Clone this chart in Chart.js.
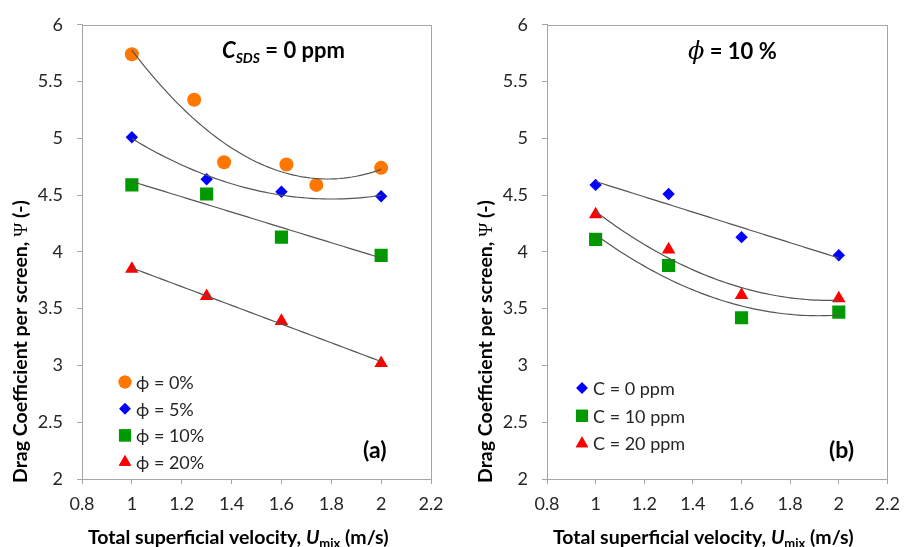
<!DOCTYPE html>
<html>
<head>
<meta charset="utf-8">
<script src="https://cdn.jsdelivr.net/npm/chart.js@4.4.1/dist/chart.umd.min.js"></script>
<style>
  body { margin: 0; background: #fff; }
  #wrap { position: relative; width: 909px; height: 547px; }
  canvas { position: absolute; top: 0; }
</style>
</head>
<body>
<div id="wrap">
  <canvas id="chartA" width="454" height="547" style="left:0"></canvas>
  <canvas id="chartB" width="455" height="547" style="left:454px"></canvas>
</div>
<script>
// data
var velA0 = [1, 1.25, 1.37, 1.62, 1.74, 2];
var psiA0 = [5.74, 5.34, 4.79, 4.77, 4.59, 4.74];
var vel = [1, 1.3, 1.6, 2];
var psiA5 = [5.01, 4.64, 4.53, 4.49];
var psiA10 = [4.59, 4.51, 4.13, 3.97];
var psiA20 = [3.85, 3.61, 3.39, 3.02];
var psiB0 = [4.59, 4.51, 4.13, 3.97];
var psiB10 = [4.11, 3.88, 3.42, 3.47];
var psiB20 = [4.33, 4.02, 3.62, 3.59];

var labelsA = ['\u03d5 = 0%', '\u03d5 = 5%', '\u03d5 = 10%', '\u03d5 = 20%'];
var labelsB = ['C = 0 ppm', 'C = 10 ppm', 'C = 20 ppm'];

var xMin = 0.8, xMax = 2.2, xStep = 0.2;
var yMin = 2, yMax = 6, yStep = 0.5;

var ORANGE = '#FF7700', BLUE = '#0000FF', GREEN = '#009A00', RED = '#FF0000';
var AXIS = '#a6a6a6', TEXT = '#262626', TREND = '#555555';

function pts(xs, ys) {
  return xs.map(function (x, i) { return { x: x, y: ys[i] }; });
}

// least squares polynomial fit (Excel style trendline)
function polyfit(xs, ys, order) {
  var n = order + 1, A = [], b = [];
  for (var i = 0; i < n; i++) {
    A.push([]); b.push(0);
    for (var j = 0; j < n; j++) {
      var s = 0;
      for (var k = 0; k < xs.length; k++) s += Math.pow(xs[k], i + j);
      A[i].push(s);
    }
    for (var k = 0; k < xs.length; k++) b[i] += ys[k] * Math.pow(xs[k], i);
  }
  for (var c = 0; c < n; c++) {
    for (var r = c + 1; r < n; r++) {
      var f = A[r][c] / A[c][c];
      for (var m = c; m < n; m++) A[r][m] -= f * A[c][m];
      b[r] -= f * b[c];
    }
  }
  var coef = new Array(n);
  for (var r = n - 1; r >= 0; r--) {
    var s = b[r];
    for (var m = r + 1; m < n; m++) s -= A[r][m] * coef[m];
    coef[r] = s / A[r][r];
  }
  return coef;
}

// draws text made of several runs (italic, subscripts...)
function drawRuns(ctx, runs, x, y, align) {
  var w = 0;
  runs.forEach(function (r) { ctx.font = r.font; w += ctx.measureText(r.t).width; });
  var cx = align === 'center' ? x - w / 2 : x;
  ctx.textAlign = 'left';
  ctx.textBaseline = 'alphabetic';
  runs.forEach(function (r) {
    ctx.font = r.font;
    ctx.fillText(r.t, cx, y + (r.dy || 0));
    cx += ctx.measureText(r.t).width;
  });
}

function marker(ctx, style, radius, color, x, y) {
  ctx.save();
  ctx.fillStyle = color;
  ctx.strokeStyle = color;
  ctx.lineWidth = 0;
  Chart.helpers.drawPoint(ctx, { pointStyle: style, radius: radius, rotation: 0, borderWidth: 0 }, x, y);
  ctx.fill();
  ctx.restore();
}

function tickLabel(v) {
  return String(Math.round(v * 10) / 10);
}

var trendPlugin = {
  id: 'trend',
  afterDatasetsDraw: function (chart) {
    var ctx = chart.ctx, xs = chart.scales.x, ys = chart.scales.y;
    ctx.save();
    ctx.strokeStyle = TREND;
    ctx.lineWidth = 1.2;
    chart.data.datasets.forEach(function (ds) {
      var px = ds.data.map(function (p) { return p.x; });
      var py = ds.data.map(function (p) { return p.y; });
      var coef = polyfit(px, py, ds.trend);
      var a = Math.min.apply(null, px), b = Math.max.apply(null, px);
      ctx.beginPath();
      for (var i = 0; i <= 60; i++) {
        var v = a + (b - a) * i / 60, yv = 0;
        for (var k = 0; k < coef.length; k++) yv += coef[k] * Math.pow(v, k);
        var X = xs.getPixelForValue(v), Y = ys.getPixelForValue(yv);
        if (i === 0) ctx.moveTo(X, Y); else ctx.lineTo(X, Y);
      }
      ctx.stroke();
    });
    ctx.restore();
  }
};

var decorPlugin = {
  id: 'decor',
  afterDraw: function (chart, args, o) {
    var ctx = chart.ctx, ca = chart.chartArea;
    ctx.save();
    ctx.strokeStyle = AXIS;
    ctx.lineWidth = 1;
    ctx.strokeRect(Math.round(ca.left) + 0.5, Math.round(ca.top) + 0.5,
      Math.round(ca.right - ca.left), Math.round(ca.bottom - ca.top));
    ctx.fillStyle = '#000';
    drawRuns(ctx, o.title, o.titleX, o.titleY, 'left');
    drawRuns(ctx, [{ t: o.panel, font: 'bold 23px Lato' }], o.panelX, o.panelY, 'left');
    // x axis title
    drawRuns(ctx, [
      { t: 'Total superficial velocity, ', font: 'bold 19.5px Lato' },
      { t: 'U', font: 'italic bold 19.5px Lato' },
      { t: 'mix', font: 'bold 13px Lato', dy: 4 },
      { t: ' (m/s)', font: 'bold 19.5px Lato' }
    ], o.xTitleX, 544, 'left');
    // y axis title
    ctx.save();
    ctx.translate(o.yTitleX, 483);
    ctx.rotate(-Math.PI / 2);
    drawRuns(ctx, [
      { t: 'Drag Coefficient per screen, ', font: 'bold 19.5px Lato' },
      { t: '\u03a8', font: '19px "Liberation Serif"' },
      { t: ' (-)', font: 'bold 19.5px Lato' }
    ], 0, 0, 'left');
    ctx.restore();
    // legend
    ctx.fillStyle = TEXT;
    chart.data.datasets.forEach(function (ds, i) {
      var y = o.legY + i * o.legStep;
      marker(ctx, ds.pointStyle, ds.pointRadius * 0.92, ds.backgroundColor, o.legX, y);
      ctx.font = '18px Lato';
      ctx.textAlign = 'left';
      ctx.textBaseline = 'middle';
      ctx.fillText(ds.label, o.legX + 11, y + 1);
    });
    ctx.restore();
  }
};

function ds(label, data, style, radius, color, order) {
  return {
    label: label, data: data, pointStyle: style, pointRadius: radius,
    backgroundColor: color, borderColor: color, pointBorderWidth: 0,
    showLine: false, trend: order
  };
}

function makeOptions(axisW, padRight, decor) {
  return {
    responsive: false,
    animation: false,
    layout: { padding: { left: 0, top: 20, right: padRight, bottom: 0 }, autoPadding: false },
    scales: {
      x: {
        type: 'linear', min: xMin, max: xMax,
        ticks: { stepSize: xStep, color: TEXT, font: { family: 'Lato', size: 18 }, padding: 9, callback: tickLabel },
        grid: { drawOnChartArea: false, tickLength: 5, color: AXIS },
        border: { color: AXIS },
        afterFit: function (s) { s.height = 68; }
      },
      y: {
        type: 'linear', min: yMin, max: yMax,
        ticks: { stepSize: yStep, color: TEXT, font: { family: 'Lato', size: 18 }, padding: 14, callback: tickLabel },
        grid: { drawOnChartArea: false, tickLength: 5, color: AXIS },
        border: { color: AXIS },
        afterFit: function (s) { s.width = axisW; }
      }
    },
    plugins: {
      legend: { display: false },
      tooltip: { enabled: false },
      decor: decor
    }
  };
}

new Chart(document.getElementById('chartA'), {
  type: 'scatter',
  data: {
    datasets: [
      ds(labelsA[0], pts(velA0, psiA0), 'circle', 7, ORANGE, 2),
      ds(labelsA[1], pts(vel, psiA5), 'rectRot', 6.2, BLUE, 2),
      ds(labelsA[2], pts(vel, psiA10), 'rect', 9.3, GREEN, 1),
      ds(labelsA[3], pts(vel, psiA20), 'triangle', 7.8, RED, 1)
    ]
  },
  options: makeOptions(82, 23, {
    title: [
      { t: 'C', font: 'italic bold 22px Lato' },
      { t: 'SDS', font: 'italic bold 14px Lato', dy: 5 },
      { t: ' = 0 ppm', font: 'bold 22px Lato' }
    ],
    titleX: 222, titleY: 58,
    panel: '(a)', panelX: 363, panelY: 458,
    xTitleX: 88, yTitleX: 27,
    legX: 125, legY: 382, legStep: 26.7
  }),
  plugins: [trendPlugin, decorPlugin]
});

new Chart(document.getElementById('chartB'), {
  type: 'scatter',
  data: {
    datasets: [
      ds(labelsB[0], pts(vel, psiB0), 'rectRot', 6.2, BLUE, 1),
      ds(labelsB[1], pts(vel, psiB10), 'rect', 9.3, GREEN, 2),
      ds(labelsB[2], pts(vel, psiB20), 'triangle', 7.8, RED, 2)
    ]
  },
  options: makeOptions(93, 14, {
    title: [
      { t: '\u03d5', font: 'italic 24px "DejaVu Serif"' },
      { t: ' = 10 %', font: 'bold 22px Lato' }
    ],
    titleX: 234, titleY: 59,
    panel: '(b)', panelX: 375, panelY: 458,
    xTitleX: 99, yTitleX: 38,
    legX: 128, legY: 388, legStep: 27.8
  }),
  plugins: [trendPlugin, decorPlugin]
});
</script>
</body>
</html>
